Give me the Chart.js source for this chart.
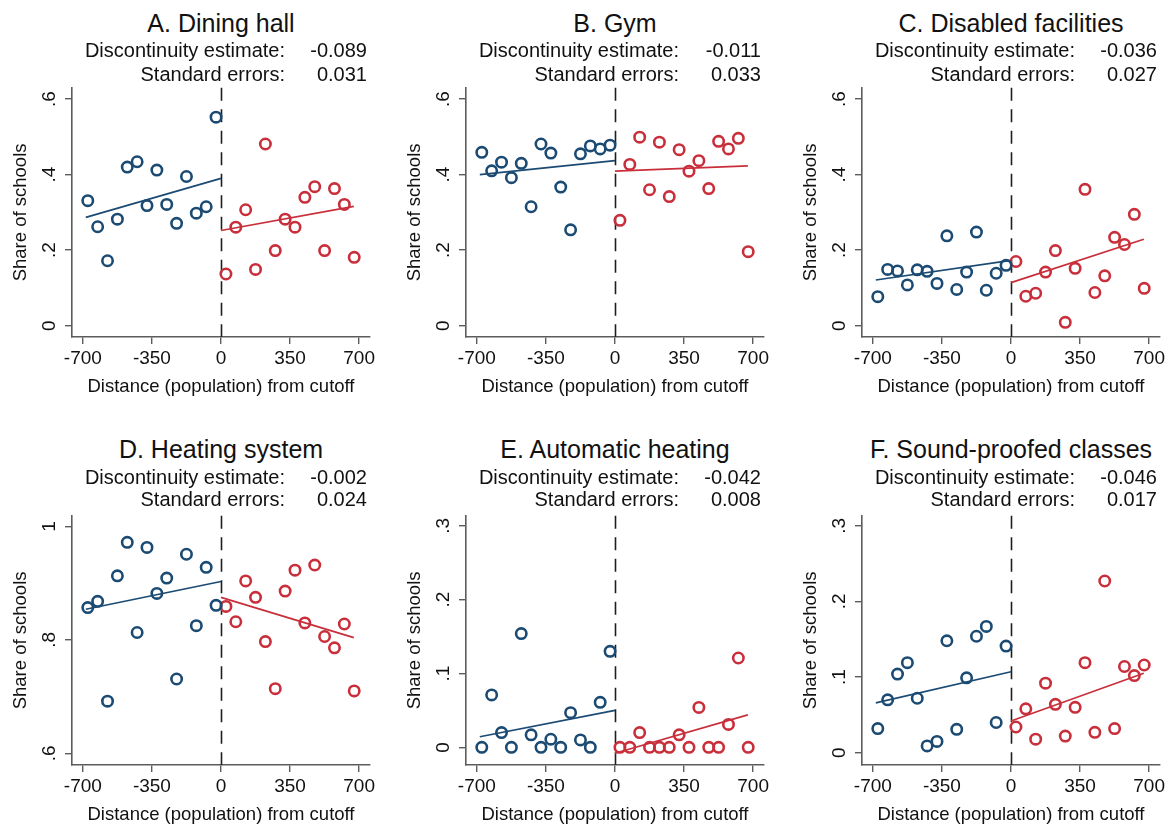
<!DOCTYPE html>
<html><head><meta charset="utf-8">
<script src="https://cdn.jsdelivr.net/npm/chart.js@4.4.1/dist/chart.umd.min.js"></script>
<style>
html,body{margin:0;padding:0;background:#fff;width:1172px;height:828px;overflow:hidden;font-family:"Liberation Sans",Arial,Helvetica,sans-serif;color:#111}
canvas{position:absolute}
.title{position:absolute;font-size:25px;line-height:25px;white-space:nowrap;text-align:center;width:400px}
.stat{position:absolute;font-size:20px;line-height:20px;white-space:nowrap;text-align:right;width:300px}
</style></head><body>
<script>
// ---- data ----
const xTicks = [-700, -350, 0, 350, 700];
const yTicksTop = [0, 0.2, 0.4, 0.6];
const yTicksHeating = [0.6, 0.8, 1];
const yTicksSmall = [0, 0.1, 0.2, 0.3];
const cutoff = 0;

const binsLeft = [-675,-625,-575,-525,-475,-425,-375,-325,-275,-225,-175,-125,-75,-25];
const binsRight = [25,75,125,175,225,275,325,375,425,475,525,575,625,675];
const fitXLeft = [-685, 0];
const fitXRight = [0, 673];

const titles = ["A. Dining hall","B. Gym","C. Disabled facilities","D. Heating system","E. Automatic heating","F. Sound-proofed classes"];
const estimates = ["-0.089","-0.011","-0.036","-0.002","-0.042","-0.046"];
const stdErrors = ["0.031","0.033","0.027","0.024","0.008","0.017"];

const diningLeft = [0.331,0.262,0.172,0.282,0.420,0.434,0.318,0.412,0.321,0.271,0.395,0.298,0.315,0.552];
const diningRight = [0.137,0.261,0.307,0.149,0.481,0.199,0.282,0.261,0.340,0.368,0.199,0.363,0.321,0.181];
const diningFitLeft = [0.287,0.390];
const diningFitRight = [0.252,0.316];

const gymLeft = [0.459,0.410,0.433,0.392,0.430,0.315,0.481,0.457,0.367,0.254,0.455,0.476,0.468,0.478];
const gymRight = [0.279,0.427,0.499,0.360,0.486,0.342,0.466,0.409,0.437,0.363,0.488,0.468,0.496,0.196];
const gymFitLeft = [0.400,0.437];
const gymFitRight = [0.409,0.423];

const disabledLeft = [0.077,0.149,0.145,0.108,0.148,0.144,0.112,0.238,0.096,0.142,0.248,0.094,0.139,0.160];
const disabledRight = [0.170,0.078,0.086,0.142,0.199,0.009,0.152,0.361,0.088,0.132,0.234,0.215,0.295,0.099];
const disabledFitLeft = [0.121,0.173];
const disabledFitRight = [0.114,0.229];

const heatingLeft = [0.857,0.868,0.692,0.913,0.972,0.813,0.963,0.882,0.909,0.731,0.951,0.825,0.928,0.861];
const heatingRight = [0.859,0.832,0.904,0.875,0.797,0.714,0.886,0.923,0.830,0.932,0.806,0.786,0.828,0.710];
const heatingFitLeft = [0.854,0.903];
const heatingFitRight = [0.875,0.804];

const autoLeft = [0,0.071,0.020,0,0.154,0.017,0,0.011,0,0.047,0.010,0,0.061,0.130];
const autoRight = [0,0,0.020,0,0,0,0.017,0,0.054,0,0,0.031,0.121,0];
const autoFitLeft = [0.0144,0.050];
const autoFitRight = [-0.008,0.044];

const soundLeft = [0.032,0.070,0.104,0.119,0.072,0.009,0.015,0.148,0.031,0.099,0.154,0.167,0.040,0.141];
const soundRight = [0.034,0.058,0.018,0.092,0.064,0.022,0.060,0.119,0.027,0.227,0.032,0.114,0.102,0.116];
const soundFitLeft = [0.066,0.107];
const soundFitRight = [0.042,0.105];

// ---- layout / style ----
const BLUE = '#1b4a73';
const RED = '#c92f3b';
const colLeft = [0, 394, 790];
const canvasTop = [80, 508];
const CW = 395, CH = 320, YW = 72, XH = 63, PADR = 25, PADT = 7;

const panels = [
  {left: diningLeft, right: diningRight, fl: diningFitLeft, fr: diningFitRight, yt: yTicksTop, min: -0.0298, max: 0.6298},
  {left: gymLeft, right: gymRight, fl: gymFitLeft, fr: gymFitRight, yt: yTicksTop, min: -0.0298, max: 0.6298},
  {left: disabledLeft, right: disabledRight, fl: disabledFitLeft, fr: disabledFitRight, yt: yTicksTop, min: -0.0298, max: 0.6298},
  {left: heatingLeft, right: heatingRight, fl: heatingFitLeft, fr: heatingFitRight, yt: yTicksHeating, min: 0.5794, max: 1.0188},
  {left: autoLeft, right: autoRight, fl: autoFitLeft, fr: autoFitRight, yt: yTicksSmall, min: -0.0239, max: 0.3135},
  {left: soundLeft, right: soundRight, fl: soundFitLeft, fr: soundFitRight, yt: yTicksSmall, min: -0.0162, max: 0.3132}
];

const pts = (xs, ys) => xs.map((x, i) => ({x, y: ys[i]}));
const fmtY = v => { if (v === 0) return '0'; if (v === 1) return '1'; return String(Math.round(v * 10) / 10).replace(/^0/, ''); };

const cutoffPlugin = {
  id: 'cutoffLine',
  beforeDatasetsDraw(chart) {
    const {ctx, chartArea, scales} = chart;
    const px = Math.round(scales.x.getPixelForValue(cutoff)) + 0.5;
    ctx.save();
    ctx.strokeStyle = '#1e1e1e';
    ctx.lineWidth = 1.6;
    ctx.setLineDash([13, 8.5]);
    ctx.beginPath();
    ctx.moveTo(px, chartArea.top);
    ctx.lineTo(px, chartArea.bottom);
    ctx.stroke();
    ctx.restore();
  }
};

Chart.defaults.font.family = '"Liberation Sans", Arial, Helvetica, sans-serif';
Chart.defaults.color = '#111';

const textRows = [
  {title: 10.5, l1: 40.4, l2: 64.1},
  {title: 436.5, l1: 466.6, l2: 488.6}
];

panels.forEach((p, i) => {
  const col = i % 3, row = Math.floor(i / 3);
  const L = colLeft[col];
  const cv = document.createElement('canvas');
  cv.width = CW; cv.height = CH;
  cv.style.left = L + 'px'; cv.style.top = canvasTop[row] + 'px';
  document.body.appendChild(cv);

  const tr = textRows[row];
  const chartRight = L + CW - PADR;
  const center = L + YW + (CW - PADR - YW) / 2;
  const t = document.createElement('div');
  t.className = 'title'; t.textContent = titles[i];
  t.style.left = (center - 200) + 'px'; t.style.top = tr.title + 'px';
  document.body.appendChild(t);
  const mk = (txt, right, top) => {
    const d = document.createElement('div');
    d.className = 'stat'; d.textContent = txt;
    d.style.left = (right - 300) + 'px'; d.style.top = top + 'px';
    document.body.appendChild(d);
  };
  mk('Discontinuity estimate:', chartRight - 85, tr.l1);
  mk(estimates[i], chartRight - 3, tr.l1);
  mk('Standard errors:', chartRight - 85, tr.l2);
  mk(stdErrors[i], chartRight - 3, tr.l2);

  new Chart(cv, {
    type: 'scatter',
    data: {
      datasets: [
        {data: pts(binsLeft, p.left), borderColor: BLUE, backgroundColor: 'rgba(0,0,0,0)', pointRadius: 5.2, borderWidth: 2.6, order: 1},
        {data: pts(binsRight, p.right), borderColor: RED, backgroundColor: 'rgba(0,0,0,0)', pointRadius: 5.2, borderWidth: 2.6, order: 1},
        {type: 'line', data: pts(fitXLeft, p.fl), borderColor: BLUE, borderWidth: 1.7, pointRadius: 0, fill: false, order: 2},
        {type: 'line', data: pts(fitXRight, p.fr), borderColor: RED, borderWidth: 1.7, pointRadius: 0, fill: false, order: 2}
      ]
    },
    options: {
      responsive: false, animation: false, devicePixelRatio: 1,
      events: [],
      layout: {padding: {top: PADT, right: PADR, left: 0, bottom: 0}},
      plugins: {legend: {display: false}, tooltip: {enabled: false}},
      scales: {
        x: {
          type: 'linear', min: -755, max: 755,
          afterBuildTicks: s => { s.ticks = xTicks.map(v => ({value: v})); },
          afterFit: s => { s.height = XH; s.paddingLeft = 0; s.paddingRight = 0; },
          grid: {display: true, drawOnChartArea: false, drawTicks: true, tickLength: 7, color: '#5c5c5c', lineWidth: 1.4},
          border: {display: true, color: '#5c5c5c', width: 1.6},
          ticks: {autoSkip: false, maxRotation: 0, minRotation: 0, padding: 3, font: {size: 19}, color: '#111', callback: v => String(v)},
          title: {display: true, text: 'Distance (population) from cutoff', font: {size: 18.5}, color: '#111', padding: {top: 0, bottom: 2}}
        },
        y: {
          type: 'linear', min: p.min, max: p.max,
          afterBuildTicks: s => { s.ticks = p.yt.map(v => ({value: v})); },
          afterFit: s => { s.width = YW; s.paddingTop = 0; s.paddingBottom = 0; },
          grid: {display: true, drawOnChartArea: false, drawTicks: true, tickLength: 7, color: '#5c5c5c', lineWidth: 1.4},
          border: {display: true, color: '#5c5c5c', width: 1.6},
          ticks: {autoSkip: false, minRotation: 90, maxRotation: 90, crossAlign: 'center', padding: 7, font: {size: 19}, color: '#111', callback: v => fmtY(v)},
          title: {display: true, text: 'Share of schools', font: {size: 18.5}, color: '#111', padding: {top: 10, bottom: 0}}
        }
      }
    },
    plugins: [cutoffPlugin]
  });
});
</script>
</body></html>
